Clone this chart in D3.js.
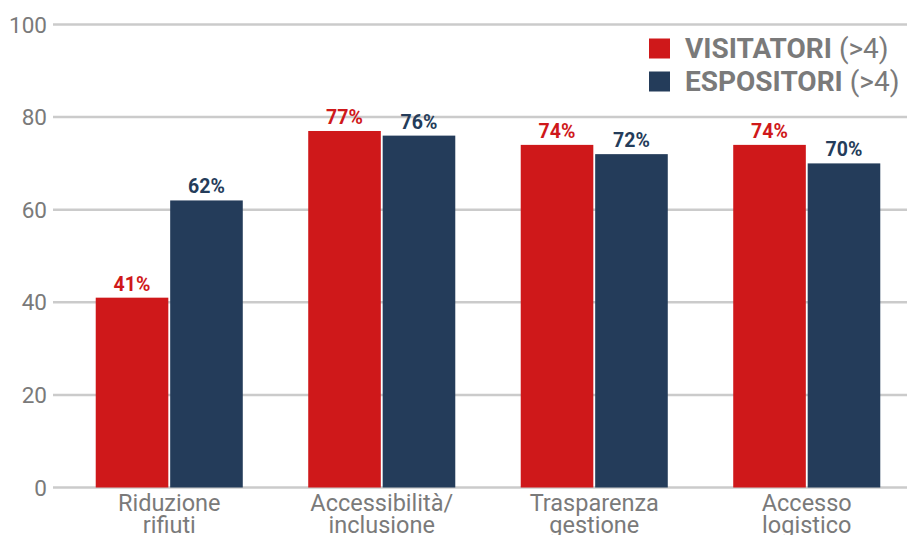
<!DOCTYPE html>
<html>
<head>
<meta charset="utf-8">
<script src="https://cdn.jsdelivr.net/npm/d3@7"></script>
<style>
  html, body { margin: 0; padding: 0; background: #fff; }
  svg { display: block; font-family: Roboto, "Noto Sans", sans-serif; }
</style>
</head>
<body>
<svg id="chart" width="907" height="535"></svg>
<script>
// Categories (two-line labels) and series values, in percent
const categories = [
  ["Riduzione", "rifiuti"],
  ["Accessibilità/", "inclusione"],
  ["Trasparenza", "gestione"],
  ["Accesso", "logistico"]
];
const seriesNames = ["VISITATORI", "ESPOSITORI"];
const seriesSuffix = " (>4)";
const visitatori = [41, 77, 74, 74];
const espositori = [62, 76, 72, 70];
const yTicks = [0, 20, 40, 60, 80, 100];

const colors = ["#CF181A", "#243C5A"];
const textGray = "#7a7a7a";
const gridGray = "#cbcbcb";

const W = 907, H = 535;
const svg = d3.select("#chart");

const catKeys = categories.map(c => c.join(" "));
const values = [visitatori, espositori];

const y = d3.scaleLinear().domain([0, 100]).range([487.5, 24.5]);
const x0 = d3.scaleBand().domain(catKeys).range([63, 913])
  .paddingInner(0.308).paddingOuter(0.154);
const x1 = d3.scaleBand().domain(seriesNames).range([0, x0.bandwidth()]).paddingInner(0.025);

// Horizontal grid lines
svg.append("g").selectAll("line").data(yTicks).join("line")
  .attr("x1", 53).attr("x2", W)
  .attr("y1", d => y(d)).attr("y2", d => y(d))
  .attr("stroke", gridGray).attr("stroke-width", 2.5);

// Y axis tick labels
svg.append("g").selectAll("text").data(yTicks).join("text")
  .attr("x", 47).attr("y", d => y(d))
  .attr("dy", "0.36em")
  .attr("text-anchor", "end")
  .attr("font-size", 22.5)
  .attr("fill", textGray)
  .text(d => d);

// Bars and value labels
const groups = svg.append("g").selectAll("g").data(catKeys).join("g")
  .attr("transform", d => `translate(${x0(d)},0)`);

seriesNames.forEach((s, si) => {
  groups.append("rect")
    .attr("x", x1(s))
    .attr("width", x1.bandwidth())
    .attr("y", (d, i) => y(values[si][i]))
    .attr("height", (d, i) => y(0) - y(values[si][i]))
    .attr("fill", colors[si]);
  groups.append("text")
    .attr("x", x1(s) + x1.bandwidth() / 2)
    .attr("y", (d, i) => y(values[si][i]) - 7)
    .attr("text-anchor", "middle")
    .attr("font-size", 19.5)
    .attr("font-weight", "bold")
    .attr("fill", colors[si])
    .text((d, i) => values[si][i] + "%");
});

// Category labels (two lines each)
const catLabels = svg.append("g").selectAll("text").data(categories).join("text")
  .attr("x", (d, i) => x0(catKeys[i]) + x0.bandwidth() / 2)
  .attr("y", 511)
  .attr("text-anchor", "middle")
  .attr("font-size", 23.5)
  .attr("fill", textGray);
catLabels.selectAll("tspan").data(d => d).join("tspan")
  .attr("x", function () { return d3.select(this.parentNode).attr("x"); })
  .attr("dy", (d, i) => i === 0 ? 0 : 22.3)
  .text(d => d);

// Legend in the top-right corner
const legend = svg.append("g");
seriesNames.forEach((s, i) => {
  const baseY = 58 + i * 33;
  const t = legend.append("text")
    .attr("x", 685).attr("y", baseY)
    .attr("font-size", 28)
    .attr("fill", textGray);
  t.append("tspan").attr("font-weight", "bold").text(s);
  t.append("tspan").text(seriesSuffix);
  legend.append("rect")
    .attr("x", 649).attr("y", baseY - 19.5)
    .attr("width", 21).attr("height", 20)
    .attr("fill", colors[i]);
});
</script>
</body>
</html>
